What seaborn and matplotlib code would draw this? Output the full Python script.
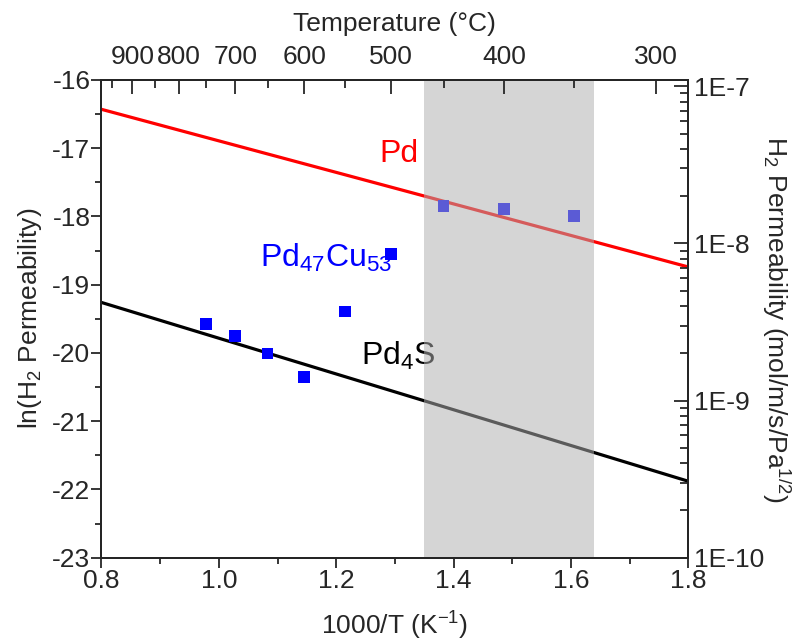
import numpy as np
import pandas as pd
import seaborn as sns
import matplotlib.pyplot as plt
from matplotlib.ticker import MultipleLocator, LogLocator, FuncFormatter, NullFormatter

# fitted Arrhenius lines (endpoints)
line_x = [0.8, 1.8]
pd_y = [-16.43, -18.74]
pd4s_y = [-19.26, -21.88]

# Pd47Cu53 measurements
cu_x = [0.978, 1.028, 1.083, 1.145, 1.215, 1.293, 1.383, 1.486, 1.605]
cu_y = [-19.58, -19.75, -20.01, -20.35, -19.39, -18.55, -17.85, -17.89, -17.99]

# top axis temperatures (°C)
temp_major = [900, 800, 700, 600, 500, 400, 300]
temp_minor = [950, 850, 750, 650, 550, 450, 350]

# shaded window in 1000/T
shade = [1.35, 1.64]

sns.set_style('ticks')
plt.rcParams['font.family'] = ['Liberation Sans', 'DejaVu Sans']
plt.rcParams['mathtext.fontset'] = 'custom'
plt.rcParams['mathtext.rm'] = 'Liberation Sans'
plt.rcParams['mathtext.it'] = 'Liberation Sans'
fs = 19

fig = plt.figure(figsize=(8.01, 6.43), dpi=100)
ax = fig.add_axes([0.1267, 0.1327, 0.8593 - 0.1267, 0.8756 - 0.1327])

lines = pd.DataFrame({'x': line_x * 2, 'y': pd_y + pd4s_y,
                      'name': ['Pd'] * 2 + ['Pd4S'] * 2})
sns.lineplot(data=lines, x='x', y='y', hue='name',
             palette={'Pd': '#ff0000', 'Pd4S': '#000000'},
             linewidth=2.3, legend=False, ax=ax, zorder=2)
sns.scatterplot(x=cu_x, y=cu_y, marker='s', s=70, color='#0000ff',
                edgecolor='none', ax=ax, zorder=3)

ax.axvspan(shade[0], shade[1], color='#b0b0b0', alpha=0.52, lw=0, zorder=5)

ax.set_xlim(0.8, 1.8)
ax.set_ylim(-23, -16)
ax.xaxis.set_major_locator(MultipleLocator(0.2))
ax.xaxis.set_minor_locator(MultipleLocator(0.1))
ax.yaxis.set_major_locator(MultipleLocator(1))
ax.yaxis.set_minor_locator(MultipleLocator(0.5))
ax.xaxis.set_major_formatter(FuncFormatter(lambda v, p: f'{v:.1f}'))
ax.yaxis.set_major_formatter(FuncFormatter(lambda v, p: f'{v:.0f}'))
ax.tick_params(which='major', direction='out', length=7, width=1.3,
               labelsize=fs, pad=1)
ax.tick_params(which='minor', direction='out', length=4, width=1.3)
ax.set_xlabel('1000/T (K$^{-1}$)', fontsize=fs, labelpad=12)
ax.set_ylabel('ln(H$_2$ Permeability)', fontsize=fs, labelpad=6)
for s in ax.spines.values():
    s.set_linewidth(1.3)
    s.set_color('black')

ax.text(1.274, -17.2, 'Pd', color='#ff0000', fontsize=23, va='baseline')
ax.text(1.07, -18.74, 'Pd$_{47}$Cu$_{53}$', color='#0000ff', fontsize=23,
        va='baseline')
ax.text(1.243, -20.18, 'Pd$_4$S', color='black', fontsize=23, va='baseline')

# top temperature axis
top = ax.twiny()
top.set_xlim(ax.get_xlim())
top.set_xticks([1000 / (t + 273) for t in temp_major])
top.set_xticklabels([str(t) for t in temp_major], fontsize=fs)
top.set_xticks([1000 / (t + 273) for t in temp_minor], minor=True)
top.tick_params(which='major', direction='in', length=10, width=1.3, pad=8)
top.tick_params(which='minor', direction='in', length=6, width=1.3)
top.set_xlabel('Temperature (°C)', fontsize=fs, labelpad=10)
for s in top.spines.values():
    s.set_linewidth(1.3)

# right permeability axis, exp of the left axis
right = ax.twinx()
right.set_yscale('log')
right.set_ylim(1e-10, 1e-10 * np.exp(7))
right.yaxis.set_major_locator(LogLocator(base=10, numticks=10))
right.yaxis.set_minor_locator(LogLocator(base=10, subs=np.arange(2, 10), numticks=20))
right.yaxis.set_major_formatter(FuncFormatter(lambda v, p: f'1E{int(round(np.log10(v)))}'))
right.yaxis.set_minor_formatter(NullFormatter())
right.tick_params(which='major', direction='in', length=10, width=1.3,
                  labelsize=fs, pad=4)
right.tick_params(which='minor', direction='in', length=6, width=1.3)
right.set_ylabel('H$_2$ Permeability (mol/m/s/Pa$^{1/2}$)', fontsize=fs,
                 rotation=270, labelpad=20)
for s in right.spines.values():
    s.set_linewidth(1.3)

# empty offset texts only get in the way
for a in (ax, top, right):
    a.xaxis.get_offset_text().set_visible(False)
    a.yaxis.get_offset_text().set_visible(False)

fig.savefig('out.png', dpi=100)
